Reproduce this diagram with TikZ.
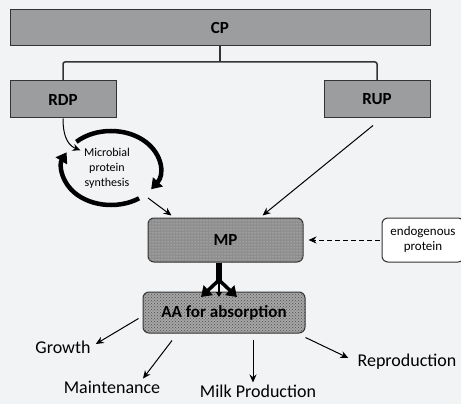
\documentclass[tikz,border=0pt]{standalone}
\usepackage{fontspec}
\setmainfont{Carlito}
\usetikzlibrary{arrows.meta,patterns}
\definecolor{bgc}{HTML}{F2F3F5}
\definecolor{boxgray}{HTML}{9B9D9E}
\definecolor{mpgray}{HTML}{8E8E8E}
\definecolor{aagray}{HTML}{A6A6A6}
\definecolor{edge}{HTML}{333333}
\begin{document}
\begin{tikzpicture}[x=1pt,y=-1pt,
  box/.style={draw=edge,line width=1pt,fill=boxgray,inner sep=0pt,
    font=\fontsize{17}{20}\selectfont\bfseries},
  rbox/.style={box,rounded corners=6pt},
  lbl/.style={font=\fontsize{18}{20}\selectfont,inner sep=2pt},
  arr/.style={-{Stealth[length=8pt,width=7pt]},line width=1pt},
  looparrow/.style={-{Triangle[length=10pt,width=13pt]},line width=4.5pt},
  forkarrow/.style={-{Triangle[length=10pt,width=13pt]},line width=3.5pt}]
\useasboundingbox[fill=bgc] (0,0) rectangle (461,404);
\node[box,minimum width=420pt,minimum height=36pt] (cp) at (220,28) {CP};
\node[box,minimum width=106pt,minimum height=37pt] (rdp) at (63,99.5) {RDP};
\node[box,minimum width=106pt,minimum height=37pt] (rup) at (377,99.5) {RUP};
\node[rbox,fill=mpgray,minimum width=155pt,minimum height=44pt,
  postaction={pattern=dots,pattern color=white!70!gray}] (mp) at (225.5,240) {MP};
\node[draw=edge,line width=1pt,fill=white,rounded corners=6pt,minimum width=82pt,
  minimum height=44pt,align=center,font=\fontsize{13}{15}\selectfont] (endo) at (423,240) {endogenous\\protein};
\node[rbox,fill=aagray,minimum width=162pt,minimum height=41pt,
  postaction={pattern=crosshatch dots,pattern color=gray!60!black}] (aa) at (224,312.5) {AA for absorption};
\node[align=center,font=\fontsize{12}{15}\selectfont] (mps) at (107,168) {Microbial\\protein\\synthesis};
\node[lbl] (growth) at (63,347) {Growth};
\node[lbl] (maint) at (112,387) {Maintenance};
\node[lbl] (milk) at (258,391) {Milk Production};
\node[lbl] (repro) at (407,362) {Reproduction};
% CP splits into RDP and RUP
\coordinate (split) at (220,62);
\draw[edge,line width=1.5pt] (cp.south) -- (split);
\draw[edge,line width=1.5pt,rounded corners=2pt] (rdp.north) |- (split) -| (rup.north);
% microbial loop
\coordinate (loop) at (111,168);
\draw[looparrow] ([shift={(135:49pt and 37pt)}]loop) arc[start angle=135,end angle=-35,x radius=49pt,y radius=37pt];
\draw[looparrow] ([shift={(-55:49pt and 37pt)}]loop) arc[start angle=-55,end angle=-205,x radius=49pt,y radius=37pt];
\draw[arr] (rdp.south) .. controls +(0,22) and +(-10,-4) .. ([yshift=-6pt]mps.north west);
\coordinate (loopout) at (148,198);
\draw[arr] (loopout) -- ([xshift=24pt,yshift=2pt]mp.north west);
\draw[arr] ([xshift=-4pt,yshift=-7pt]rup.south) -- ([xshift=-41pt,yshift=2pt]mp.north east);
\draw[arr,dash pattern=on 5pt off 3pt] ([xshift=-2pt]endo.west) -- ([xshift=5pt]mp.east);
% MP to AA
\coordinate (fork) at (219,280);
\coordinate (forkl) at (201,297);
\coordinate (forkc) at (219,297);
\coordinate (forkr) at (237,297);
\draw[line width=6pt] ([xshift=-6.5pt]mp.south) -- (fork);
\draw[forkarrow] (fork) -- (forkl);
\draw[forkarrow] (fork) -- (forkr);
\draw[-{Triangle[length=5pt,width=6pt]},line width=1.5pt] (fork) -- (forkc);
% uses of AA
\draw[arr] ([xshift=-4pt,yshift=-6pt]aa.west) -- ([xshift=3pt,yshift=3pt]growth.east);
\draw[arr] ([xshift=-52pt,yshift=-7pt]aa.south) -- ([xshift=31pt]maint.north);
\draw[arr] ([xshift=29pt,yshift=-6pt]aa.south) -- ([xshift=-5pt]milk.north);
\draw[arr] ([yshift=-4pt]aa.south east) -- ([xshift=-7pt,yshift=4pt]repro.west);
\end{tikzpicture}
\end{document}
